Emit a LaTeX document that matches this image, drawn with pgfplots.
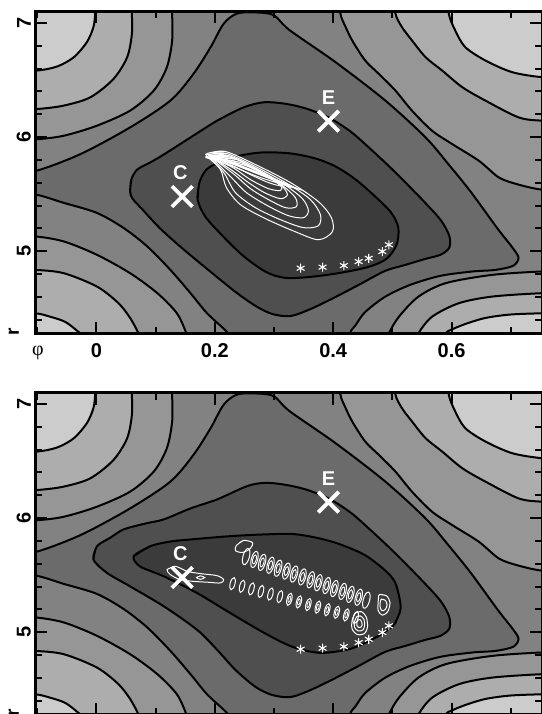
\documentclass[border=0pt]{standalone}
\usepackage{fontspec}
\setmainfont{Liberation Sans}
\newfontfamily\grfont{Liberation Serif}
\usepackage{pgfplots}
\pgfplotsset{compat=1.18}

\definecolor{lv0}{gray}{0.23}
\definecolor{lv1}{gray}{0.31}
\definecolor{lv2}{gray}{0.42}
\definecolor{lv3}{gray}{0.51}
\definecolor{lv4}{gray}{0.59}
\definecolor{lv5}{gray}{0.68}
\definecolor{lv6}{gray}{0.80}

% tilted vertical ellipse for the small density loops
\pgfdeclareplotmark{vell}{%
  \pgfpathellipse{\pgfpointorigin}%
    {\pgfqpoint{0.966\pgfplotmarksize}{-0.259\pgfplotmarksize}}%
    {\pgfqpoint{0.673\pgfplotmarksize}{2.511\pgfplotmarksize}}%
  \pgfusepathqstroke}

\pgfplotsset{
  pes/.style={
    scale only axis, width=506.8pt, height=322pt,
    xmin=-0.103, xmax=0.753, ymin=4.28, ymax=7.10,
    axis on top,
    axis background/.style={fill=lv3},
    axis line style={line width=3pt},
    xtick={0,0.2,0.4,0.6}, xticklabels={0,0.2,0.4,0.6},
    minor xtick={-0.1,0.1,0.3,0.5,0.7},
    ytick={5,6,7}, yticklabels={5,6,7},
    minor ytick={4.4,4.6,4.8,5.2,5.4,5.6,5.8,6.2,6.4,6.6,6.8},
    tick align=inside,
    major tick length=12pt, minor tick length=7pt,
    every tick/.style={black, line width=2pt},
    ticklabel style={font=\bfseries\fontsize{20}{20}\selectfont},
    xticklabel shift=6pt,
    yticklabel style={rotate=90, anchor=south},
    yticklabel shift=1pt,
  },
  cap/.style={draw=black, line width=2pt, smooth, fill=#1},
  wl/.style={draw=white, line width=1pt, smooth},
}

% energy landscape shared by both panels
\newcommand{\bgshapes}{%
  % level C caps
  \addplot[cap=lv4] coordinates {(0.128,7.30) (0.128,7.087) (0.128,6.847) (0.119,6.612) (0.097,6.408) (0.057,6.232) (0.001,6.100) (-0.055,6.012) (-0.100,5.982) (-0.15,5.98) (-0.15,7.30)};
  \addplot[cap=lv4] coordinates {(0.412,7.30) (0.412,7.087) (0.421,6.964) (0.432,6.847) (0.454,6.671) (0.477,6.554) (0.505,6.408) (0.533,6.232) (0.567,6.056) (0.601,5.939) (0.646,5.793) (0.680,5.646) (0.713,5.584) (0.752,5.540) (0.80,5.53) (0.80,7.30)};
  \addplot[cap=lv4] coordinates {(-0.15,5.13) (-0.103,5.130) (-0.055,5.086) (0.001,4.969) (0.057,4.808) (0.103,4.633) (0.136,4.457) (0.152,4.281) (0.16,4.15) (-0.15,4.15)};
  \addplot[cap=lv4] coordinates {(0.80,4.82) (0.752,4.823) (0.668,4.793) (0.590,4.721) (0.544,4.603) (0.511,4.427) (0.494,4.281) (0.485,4.15) (0.80,4.15)};
  % level B caps
  \addplot[cap=lv5] coordinates {(0.060,7.30) (0.060,7.087) (0.060,6.905) (0.052,6.700) (0.029,6.510) (-0.010,6.349) (-0.055,6.276) (-0.100,6.246) (-0.15,6.24) (-0.15,7.30)};
  \addplot[cap=lv5] coordinates {(0.505,7.30) (0.505,7.087) (0.516,6.964) (0.533,6.847) (0.556,6.700) (0.584,6.583) (0.618,6.437) (0.657,6.320) (0.713,6.173) (0.752,6.144) (0.80,6.14) (0.80,7.30)};
  \addplot[cap=lv5] coordinates {(-0.15,4.84) (-0.103,4.837) (-0.055,4.808) (0.001,4.691) (0.037,4.547) (0.057,4.416) (0.071,4.281) (0.08,4.15) (-0.15,4.15)};
  \addplot[cap=lv5] coordinates {(0.80,4.63) (0.752,4.633) (0.668,4.603) (0.612,4.545) (0.567,4.427) (0.544,4.281) (0.535,4.15) (0.80,4.15)};
  % level A caps
  \addplot[cap=lv6] coordinates {(0.000,7.30) (-0.002,7.087) (-0.005,6.964) (-0.016,6.832) (-0.038,6.700) (-0.066,6.619) (-0.100,6.583) (-0.15,6.58) (-0.15,7.30)};
  \addplot[cap=lv6] coordinates {(0.595,7.30) (0.595,7.087) (0.606,6.935) (0.623,6.788) (0.657,6.671) (0.702,6.569) (0.752,6.525) (0.80,6.52) (0.80,7.30)};
  \addplot[cap=lv6] coordinates {(-0.15,4.46) (-0.103,4.457) (-0.078,4.427) (-0.052,4.380) (-0.027,4.281) (0.005,4.15) (-0.15,4.15)};
  \addplot[cap=lv6] coordinates {(0.80,4.46) (0.752,4.457) (0.699,4.446) (0.657,4.416) (0.623,4.363) (0.598,4.310) (0.590,4.281) (0.575,4.15) (0.80,4.15)};
  % level D basin
  \addplot[cap=lv2] coordinates {(-0.15,5.69) (-0.103,5.703) (-0.027,5.851) (0.057,6.085) (0.125,6.320) (0.164,6.554) (0.193,6.788) (0.215,6.993) (0.238,7.083) (0.272,7.091) (0.300,7.067) (0.326,6.938) (0.404,6.656) (0.488,6.320) (0.556,5.997) (0.595,5.760) (0.632,5.523) (0.679,5.189) (0.703,5.031) (0.713,4.943) (0.704,4.873) (0.674,4.837) (0.635,4.823) (0.581,4.785) (0.530,4.706) (0.488,4.603) (0.454,4.468) (0.438,4.354) (0.429,4.281) (0.44,4.15) (0.24,4.15) (0.223,4.281) (0.187,4.457) (0.159,4.633) (0.125,4.837) (0.086,5.042) (0.046,5.204) (0.001,5.336) (-0.055,5.424) (-0.103,5.497) (-0.15,5.50)};
}

\newcommand{\markers}{%
  \addplot[only marks, white, mark=asterisk, mark size=4.5pt, mark options={line width=1.1pt}] coordinates {(0.345,4.852) (0.382,4.861) (0.418,4.875) (0.443,4.910) (0.460,4.939) (0.483,4.998) (0.494,5.057)};
  \addplot[only marks, white, mark=x, mark size=14.5pt, mark options={line width=3.8pt}] coordinates {(0.145,5.48) (0.392,6.14)};
  \node[text=white, font=\bfseries\fontsize{20}{20}\selectfont] at (axis cs:0.142,5.69) {C};
  \node[text=white, font=\bfseries\fontsize{20}{20}\selectfont] at (axis cs:0.392,6.349) {E};
}

\begin{document}
\begin{tikzpicture}[x=1pt, y=1pt]
% ---------------- upper panel ----------------
\begin{axis}[pes, at={(35.4pt,-11.5pt)}, anchor=north west]
\bgshapes
\addplot[cap=lv1] coordinates {(0.057,5.523) (0.059,5.628) (0.069,5.716) (0.091,5.778) (0.114,5.848) (0.159,5.997) (0.204,6.144) (0.249,6.261) (0.283,6.305) (0.319,6.292) (0.353,6.252) (0.392,6.173) (0.429,6.050) (0.460,5.910) (0.500,5.716) (0.547,5.470) (0.581,5.277) (0.596,5.136) (0.596,5.031) (0.581,4.969) (0.556,4.934) (0.522,4.881) (0.488,4.829) (0.446,4.714) (0.404,4.600) (0.362,4.495) (0.328,4.433) (0.297,4.451) (0.269,4.521) (0.235,4.644) (0.193,4.820) (0.148,5.013) (0.108,5.198) (0.078,5.365) (0.061,5.461) (0.057,5.523) (0.059,5.628)};
\addplot[cap=lv0] coordinates {(0.171,5.453) (0.174,5.602) (0.186,5.716) (0.210,5.786) (0.243,5.839) (0.282,5.866) (0.328,5.857) (0.370,5.813) (0.404,5.743) (0.438,5.628) (0.471,5.479) (0.498,5.338) (0.510,5.207) (0.507,5.057) (0.490,4.934) (0.460,4.864) (0.412,4.811) (0.362,4.776) (0.319,4.767) (0.286,4.820) (0.248,4.960) (0.213,5.136) (0.184,5.303) (0.171,5.453) (0.174,5.602)};
% density contours
\addplot[wl] coordinates {(0.1875,5.857) (0.2179,5.874) (0.2686,5.760) (0.3277,5.602) (0.3750,5.435) (0.3970,5.294) (0.3986,5.171) (0.3750,5.101) (0.3361,5.171) (0.2855,5.286) (0.2432,5.409) (0.2196,5.558) (0.2095,5.716) (0.1875,5.830) (0.1875,5.857) (0.2179,5.874)};
\addplot[wl] coordinates {(0.1909,5.848) (0.2196,5.857) (0.2686,5.743) (0.3226,5.593) (0.3615,5.453) (0.3784,5.321) (0.3750,5.224) (0.3497,5.207) (0.3108,5.277) (0.2686,5.382) (0.2348,5.514) (0.2162,5.681) (0.1909,5.830) (0.1909,5.848) (0.2196,5.857)};
\addplot[wl] coordinates {(0.1943,5.839) (0.2230,5.839) (0.2703,5.725) (0.3176,5.584) (0.3480,5.461) (0.3581,5.356) (0.3497,5.294) (0.3243,5.312) (0.2889,5.400) (0.2534,5.514) (0.2280,5.646) (0.1943,5.822) (0.1943,5.839) (0.2230,5.839)};
\addplot[wl] coordinates {(0.1976,5.830) (0.2297,5.822) (0.2736,5.707) (0.3142,5.576) (0.3361,5.470) (0.3378,5.391) (0.3193,5.382) (0.2905,5.453) (0.2601,5.549) (0.2331,5.672) (0.1976,5.813) (0.1976,5.830) (0.2297,5.822)};
\addplot[wl] coordinates {(0.2010,5.822) (0.2365,5.804) (0.2804,5.690) (0.3125,5.576) (0.3226,5.496) (0.3108,5.461) (0.2838,5.514) (0.2568,5.602) (0.2297,5.707) (0.2010,5.804) (0.2010,5.822) (0.2365,5.804)};
\addplot[wl] coordinates {(0.2061,5.813) (0.2432,5.778) (0.2838,5.672) (0.3108,5.576) (0.3108,5.532) (0.2905,5.549) (0.2601,5.628) (0.2331,5.725) (0.2061,5.795) (0.2061,5.813) (0.2432,5.778)};
\addplot[wl] coordinates {(0.2128,5.804) (0.2517,5.751) (0.2905,5.655) (0.3108,5.576) (0.2905,5.602) (0.2601,5.672) (0.2331,5.743) (0.2128,5.786) (0.2128,5.804) (0.2517,5.751)};
\addplot[wl] coordinates {(0.1841,5.830) (0.2264,5.778) (0.2770,5.672) (0.3446,5.540) (0.2770,5.646) (0.2264,5.751) (0.1841,5.822)};
\addplot[white, line width=2.6pt, smooth] coordinates {(0.190,5.835) (0.230,5.770) (0.280,5.670) (0.330,5.565)};
\markers
\end{axis}
% ---------------- lower panel (its tick labels fall below the crop) ----------------
\begin{axis}[pes, at={(35.4pt,-392.5pt)}, anchor=north west, xticklabels={}]
\bgshapes
\addplot[cap=lv1] coordinates {(-0.005,5.637) (0.001,5.754) (0.024,5.830) (0.046,5.901) (0.083,5.953) (0.114,5.989) (0.159,6.085) (0.204,6.164) (0.255,6.281) (0.286,6.309) (0.319,6.292) (0.353,6.252) (0.392,6.173) (0.429,6.050) (0.460,5.910) (0.500,5.716) (0.547,5.470) (0.581,5.277) (0.596,5.136) (0.596,5.031) (0.581,4.969) (0.556,4.934) (0.522,4.881) (0.488,4.829) (0.446,4.714) (0.404,4.600) (0.362,4.495) (0.328,4.433) (0.297,4.451) (0.269,4.521) (0.235,4.670) (0.204,4.846) (0.170,5.022) (0.114,5.227) (0.057,5.402) (0.018,5.520) (-0.005,5.637) (0.001,5.754)};
\addplot[cap=lv0] coordinates {(0.063,5.666) (0.091,5.754) (0.125,5.795) (0.159,5.813) (0.226,5.842) (0.283,5.857) (0.331,5.861) (0.370,5.830) (0.404,5.784) (0.438,5.716) (0.460,5.655) (0.488,5.540) (0.505,5.432) (0.514,5.227) (0.508,5.119) (0.500,5.051) (0.471,4.952) (0.429,4.855) (0.378,4.820) (0.331,4.873) (0.283,4.996) (0.226,5.169) (0.170,5.344) (0.114,5.490) (0.074,5.576) (0.063,5.666) (0.091,5.754)};
% density contours
\addplot[wl] coordinates {(0.1194,5.549) (0.1334,5.578) (0.1532,5.534) (0.1757,5.514) (0.2039,5.496) (0.2150,5.461) (0.2095,5.432) (0.1897,5.438) (0.1644,5.446) (0.1419,5.461) (0.1250,5.505) (0.1194,5.549) (0.1334,5.578)};
\addplot[wl] coordinates {(0.169,5.479) (0.1757,5.494) (0.183,5.479) (0.1757,5.464) (0.169,5.479) (0.1757,5.494)};
\addplot[wl] coordinates {(0.2365,5.760) (0.2483,5.804) (0.2635,5.786) (0.2601,5.734) (0.2466,5.699) (0.2348,5.716) (0.2365,5.760) (0.2483,5.804)};
\addplot[only marks, white, mark=vell, mark size=3.2pt, mark options={line width=1pt}] coordinates {(0.253,5.663) (0.267,5.638) (0.280,5.612) (0.294,5.587) (0.307,5.561) (0.321,5.536) (0.334,5.510) (0.348,5.485) (0.362,5.460) (0.375,5.434) (0.389,5.409) (0.402,5.383) (0.416,5.358) (0.429,5.332) (0.443,5.307) (0.456,5.281)};
\addplot[only marks, white, mark=vell, mark size=1.8pt, mark options={line width=0.9pt}] coordinates {(0.267,5.638) (0.280,5.612) (0.294,5.587) (0.307,5.561) (0.321,5.536) (0.334,5.510) (0.348,5.485) (0.362,5.460) (0.375,5.434) (0.389,5.409) (0.402,5.383) (0.416,5.358) (0.429,5.332) (0.443,5.307)};
\addplot[only marks, white, mark=vell, mark size=2.4pt, mark options={line width=1pt}] coordinates {(0.230,5.426) (0.246,5.403) (0.262,5.380) (0.278,5.358) (0.294,5.335) (0.310,5.312) (0.326,5.289) (0.342,5.266) (0.358,5.243) (0.374,5.220) (0.390,5.198) (0.406,5.175) (0.422,5.152) (0.438,5.129)};
\addplot[only marks, white, mark=vell, mark size=1.2pt, mark options={line width=0.8pt}] coordinates {(0.326,5.289) (0.342,5.266) (0.358,5.243) (0.374,5.220) (0.390,5.198) (0.406,5.175) (0.422,5.152)};
\addplot[wl] coordinates {(0.438,5.170) (0.448,5.180) (0.456,5.132) (0.458,5.047) (0.453,4.990) (0.441,4.980) (0.432,5.028) (0.432,5.104) (0.438,5.170) (0.448,5.180)};
\addplot[wl] coordinates {(0.440,5.137) (0.446,5.143) (0.452,5.112) (0.453,5.057) (0.450,5.020) (0.442,5.013) (0.436,5.044) (0.436,5.094) (0.440,5.137) (0.446,5.143)};
\addplot[wl] coordinates {(0.442,5.108) (0.445,5.112) (0.448,5.095) (0.449,5.065) (0.447,5.045) (0.443,5.042) (0.440,5.059) (0.440,5.085) (0.442,5.108) (0.445,5.112)};
\addplot[wl] coordinates {(0.478,5.330) (0.490,5.320) (0.496,5.260) (0.492,5.180) (0.483,5.150) (0.476,5.190) (0.476,5.270) (0.478,5.330) (0.490,5.320)};
\addplot[wl] coordinates {(0.481,5.290) (0.488,5.280) (0.491,5.240) (0.488,5.200) (0.482,5.190) (0.479,5.230) (0.481,5.290) (0.488,5.280)};
\markers
\end{axis}
% axis names
\node[font=\grfont\fontsize{20}{20}\selectfont] at (37.9,-353.3) {φ};
\node[rotate=90, font=\bfseries\fontsize{19}{19}\selectfont] at (13.8,-331.7) {r};
\node[rotate=90, font=\bfseries\fontsize{19}{19}\selectfont] at (13.8,-712.7) {r};
\pgfresetboundingbox
\path[use as bounding box] (0,0) rectangle (541,-714);
\end{tikzpicture}
\end{document}
